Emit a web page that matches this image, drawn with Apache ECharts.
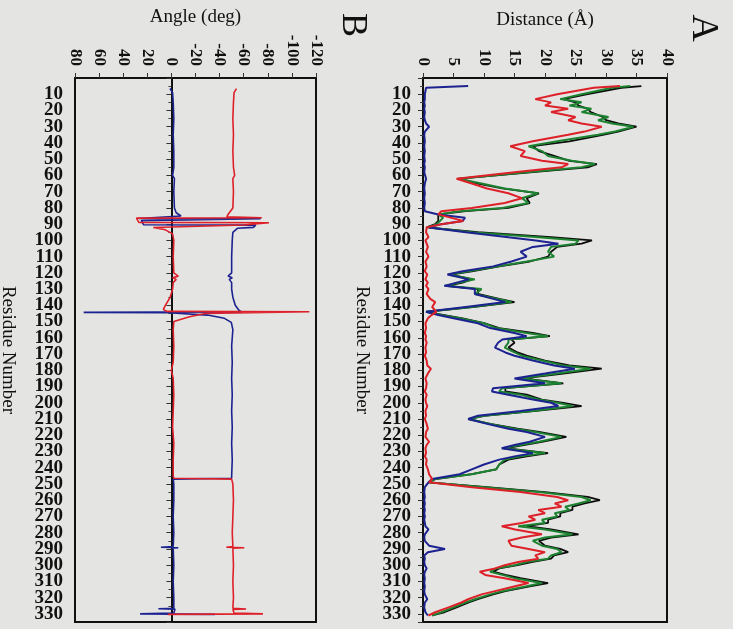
<!DOCTYPE html>
<html>
<head>
<meta charset="utf-8">
<script src="https://cdn.jsdelivr.net/npm/echarts/dist/echarts.min.js"></script>
<style>
html,body{margin:0;padding:0;background:#e4e4e2;}
#c{width:733px;height:629px;}
</style>
</head>
<body>
<div id="c"></div>
<script>
// ---------- Panel A: Distance (Å) vs residue ----------
const residueA = [5,6,10,13,15,17,19,21,24,26,28,30,33,35,39,42,45,48,51,53,55,58,62,65,68,71,74,77,80,82,84,86,88,90,92,95,98,100,102,104,107,110,113,116,119,121,124,126,128,130,133,136,138,141,144,146,148,151,154,157,159,161,163,166,169,171,174,177,179,182,185,188,191,193,195,198,200,202,205,208,210,213,216,218,221,224,226,228,231,233,235,238,241,244,247,249,252,255,258,260,262,264,266,268,270,272,274,276,278,281,283,285,288,290,292,294,296,298,300,302,304,306,308,311,313,316,318,321,323,326,329,331];

const distRed = [32.3,28,22,18.4,21,20,23.8,21,25,23.8,26,29.3,26.5,23.8,18,14.3,16.7,16,19.5,23.8,22.7,15,5.5,8,10.5,14,16.2,13.4,8,3,2.5,4.5,6.6,3,0.6,0.5,0.9,0.4,0.6,0.8,0.5,0.9,0.4,0.6,0.3,0.7,0.4,0.8,0.5,0.9,0.6,1.2,2.0,1.5,2.2,1.4,0.8,0.4,0.5,0.3,0.5,0.4,0.6,0.4,0.5,0.3,0.6,0.7,1.3,0.8,0.4,0.6,0.5,0.3,0.6,0.4,0.5,0.7,0.4,0.5,0.3,0.6,0.8,0.5,0.4,1.0,0.6,0.4,0.5,0.3,0.6,0.5,0.8,1.0,1.5,1.0,8,16,22,23.8,21.6,22.7,18.9,20,17.3,18.4,16.2,12.9,15.1,19.5,16.2,14,14.5,17.3,20,18.4,18.9,15.6,13.4,11.8,9.3,10.2,13.4,17.3,15.1,11.8,9.6,7.4,6.3,4.2,2,0.9];

const distGreen = [34,31,26,22.5,26,24,27.6,26,30.4,28.7,31,34.5,31.5,28.7,22,17.3,19.5,20.5,24.4,28.2,26,17,5.8,9.6,13.4,18.9,16.2,17.3,13,6,2.5,3.3,2.8,2.2,1,8,19,25.5,25,21,20.5,21.5,17,12.3,7.5,4.2,8.5,6,3.6,9.6,8.5,12,14.5,8,0.5,3,6,10,12,17,20.5,14,14,13.4,15,16.2,19.5,23,27.5,22,16,22.7,13,12.5,16,19,22,24.5,18,10,7.5,11,15,18.4,22.7,19,16,13,20,16,13.4,12.5,12,8,2,0.9,10,19,26,27.5,25.5,23.3,24,21.6,22,19.5,20,15.6,20,24.5,20,18,19.5,22,22.7,21,20.5,17,15,12,11,13,15,19.5,17,13,11,8.5,7,5,3,1.5];

const distBlack = [35.8,32.5,27,23,25,25.5,27,27.5,29.5,30,32,35,32,29.5,24,18,19,21.5,24,28.5,27,18,6,9,13,19,17,17.5,14,7,2.5,2.5,2.5,2,0.6,9,21,27.7,26,22,21,20.5,17.5,12.5,8,4.5,8,6.5,4,9,9,12.5,15,8.5,0.5,3.5,6.5,10,12.5,18,20.8,14.5,15,14,15.5,17,20,24,29.3,23,16.5,23,13.5,13.5,17,19.5,23,26,18.5,10,7.5,11,15.5,19,23.5,19.5,16.5,13.5,20.5,17,14,12.5,12,8,2,0.9,10.5,20,27,29,26.5,24.5,24.5,22.5,22.5,20.5,20.5,17,21,25.5,21,19,20,22.5,23.8,21.5,21,18,15.5,12.5,11.5,13.5,16,20.5,17.5,13.5,11.5,9,7.5,5.5,3.5,1.5];

const distBlue = [7.4,0.5,0.3,0.3,0.2,0.3,0.2,0.3,0.2,0.3,0.5,1.0,0.3,0.2,0.3,0.2,0.3,0.2,0.3,0.2,0.3,0.2,0.5,0.3,0.2,0.3,0.2,0.3,0.2,0.3,2.5,6.9,6.5,3,1,7,14,18.5,22.2,18,16,17,14.5,11.5,6.5,4,7.5,5.5,3.5,8.5,8.5,11.5,13.5,7,0.5,2.5,5,9,11,15,17,13,12.3,11.8,13.5,15,18,21.5,24.9,20,15,20,11.5,11.3,14,18,21,22.2,16,9,7.4,10.5,14,17,20,17.5,15,12.9,18,15,12.5,10,8,6,1.5,0.9,0.3,0.2,0.3,0.2,0.3,0.2,0.3,0.2,0.3,0.2,0.3,0.4,0.9,0.3,0.2,0.3,1.0,3.6,0.8,0.2,0.3,0.2,0.3,0.6,0.3,0.2,0.3,0.2,0.3,0.2,0.3,0.7,0.3,0.2,0.4,0.8];

// ---------- Panel B: Angle (deg) vs residue ----------
const angleResBlue = [6.5,9,15,25,35,45,55,60,62,70,80,83,85,86.5,86.7,87.6,87.8,90.4,90.6,92,92.5,95,100,110,120,122,123,124,126,130,135,140,143,144,144.3,144.6,146,148,150.5,155,165,175,185,195,205,215,225,235,245,246.5,247,250,260,270,280,288.5,289,289.3,289.6,300,310,320,326.5,326.8,327.1,329.5,330,330.3];
const angleBlue = [1.2,-1,-1.5,-2,-1.5,-2,-2,-1,-2.5,-2,-2.5,-4,-8,27,-74,-74,25,23,-70,-68,-55,-51,-50.5,-50,-50,-47,-50.5,-48,-50,-50,-51,-53,-56,-58,72.8,2.6,-30,-44,-49.7,-51,-50,-50.5,-50,-50.5,-50,-50.5,-50,-50.5,-50,-50,-1.5,-2,-2,-1.5,-2,-1.5,8.7,-5.7,-1.5,-2,-1.5,-2,-2,10.8,-3,-2,26,-36];

const angleResRed = [6.5,9,15,25,35,45,55,60,62,70,80,82,84,85.5,86.1,86.3,88.9,89.1,90.5,92.1,93.5,96,100,110,120,122,123,124,126,130,135,140,142.5,143.7,143.9,145,147,150,155,165,175,180,185,195,205,215,225,235,245,246.5,247,250,260,270,280,288.5,289,289.3,289.6,300,310,320,326.5,327,327.3,329.5,330,330.3];
const angleRed = [-54,-52,-51.5,-51,-51.5,-51,-51.5,-52.5,-51,-51.5,-51,-49,-47,-46,-75,29,27,-81,-60,15,5,-1,-2,-1.5,-2,-5.7,-1,-4,-1.5,-1,1,5,6.7,4,-114.5,-28,-15,-2,-1.5,-2,-1.5,0,-1.5,-2,-1.5,-1,-2,-1.5,-1.5,-2,-50,-51,-51.5,-51,-50.5,-51,-45.6,-60.5,-51,-51.5,-51,-51.5,-51,-62,-51,-52,-76,3];

// axis settings
const residueRange = [0, 335, 10];
const distanceRange = [0, 40, 5];
const angleRange = [-120, 80, 20];

const FONT = '"Liberation Serif", "Times New Roman", serif';
const TXT = '#111111';
const C_RED = '#de2029', C_GREEN = '#1c8230', C_BLUE = '#1c2390', C_BLACK = '#0c0c0c';

const chart = echarts.init(document.getElementById('c'), null, {renderer: 'canvas'});

function pairs(xs, ys) { return xs.map((r, i) => [ys[i], r]); }

function resAxis(gi, gap) {
  return {
    gridIndex: gi, type: 'value', inverse: true,
    min: residueRange[0], max: residueRange[1], interval: residueRange[2],
    axisLine: {show: true, lineStyle: {color: '#111', width: 2}},
    axisTick: {show: true, inside: false, length: 5, lineStyle: {color: '#333', width: 1}},
    minorTick: {show: true, splitNumber: 2, length: 3, lineStyle: {color: '#444'}},
    splitLine: {show: false},
    axisLabel: {
      formatter: v => (v >= 10 && v <= 330) ? String(v) : '',
      fontFamily: FONT, fontSize: 19, fontWeight: 'bold', color: TXT, margin: 12
    },
    name: 'Residue Number', nameLocation: 'middle', nameRotate: -90, nameGap: gap,
    nameTextStyle: {fontFamily: FONT, fontSize: 19, color: TXT}
  };
}

function valAxis(gi, range, inverse, name) {
  return {
    gridIndex: gi, type: 'value', position: 'top', inverse: inverse,
    min: range[0], max: range[1], interval: range[2],
    axisLine: {show: true, lineStyle: {color: '#111', width: 2}},
    axisTick: {show: true, inside: false, length: 5, lineStyle: {color: '#333'}},
    splitLine: {show: false},
    axisLabel: {rotate: -90, fontFamily: FONT, fontSize: 17, fontWeight: 'bold', color: TXT, margin: 12},
    name: name, nameLocation: 'middle', nameGap: 48,
    nameTextStyle: {fontFamily: FONT, fontSize: 19, color: TXT}
  };
}

function line(data, color, xi, yi, w) {
  return {
    type: 'line', data: data, xAxisIndex: xi, yAxisIndex: yi,
    showSymbol: false, symbol: 'none', smooth: false, animation: false,
    lineStyle: {color: color, width: w}, itemStyle: {color: color}
  };
}

chart.setOption({
  backgroundColor: '#e4e4e2',
  animation: false,
  grid: [
    {left: 423, top: 78, width: 244, height: 544, show: true, borderColor: '#111', borderWidth: 2, backgroundColor: 'transparent', outerBoundsMode: 'none'},
    {left: 75, top: 78, width: 241, height: 544, show: true, borderColor: '#111', borderWidth: 2, backgroundColor: 'transparent', outerBoundsMode: 'none'}
  ],
  xAxis: [
    valAxis(0, distanceRange, false, 'Distance (Å)'),
    valAxis(1, angleRange, true, 'Angle (deg)')
  ],
  yAxis: [resAxis(0, 52), resAxis(1, 58)],
  series: [
    line(pairs(residueA, distBlack), C_BLACK, 0, 0, 1.8),
    line(pairs(residueA, distGreen), C_GREEN, 0, 0, 2),
    line(pairs(residueA, distBlue), C_BLUE, 0, 0, 2),
    line(pairs(residueA, distRed), C_RED, 0, 0, 2),
    line(pairs(angleResBlue, angleBlue), C_BLUE, 1, 1, 1.6),
    line(pairs(angleResRed, angleRed), C_RED, 1, 1, 1.6)
  ],
  graphic: [
    {type: 'text', x: 703, y: 28, rotation: -Math.PI / 2,
     style: {text: 'A', font: '38px ' + FONT, fill: TXT, align: 'center', verticalAlign: 'middle'}},
    {type: 'text', x: 352, y: 25, rotation: -Math.PI / 2,
     style: {text: 'B', font: '36px ' + FONT, fill: TXT, align: 'center', verticalAlign: 'middle'}}
  ]
});
</script>
</body>
</html>
